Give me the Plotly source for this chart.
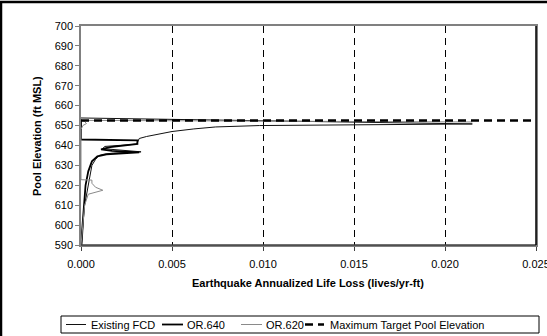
import plotly.graph_objects as go

# ---------------- data ----------------
fcd_x = [0.00005, 0.0001, 0.00015, 0.0002, 0.0003, 0.0004, 0.0005, 0.0006, 0.0008, 0.0010,
         0.0013, 0.0018, 0.0033, 0.0020, 0.0012, 0.0013, 0.0030, 0.0031, 0.0032, 0.0036,
         0.0040, 0.0050, 0.0062, 0.0074, 0.0098, 0.0150, 0.0215, 0.0]
fcd_y = [590, 600, 605, 610, 615, 620, 625, 630, 633, 635,
         635.7, 636.2, 636.8, 637.6, 638.4, 639.5, 640.6, 641.5, 643.5, 644.5,
         645.3, 647.0, 648.3, 649.3, 650.0, 650.4, 650.8, 653.8]

or640_x = [0.0, 0.00008, 0.00015, 0.00025, 0.0004, 0.0006, 0.0009, 0.0014, 0.0032, 0.0017,
           0.0011, 0.0016, 0.0031, 0.0031, 0.0031, 0.0, 0.0]
or640_y = [590, 600, 610, 620, 627, 632, 634.5, 635.5, 636.5, 637.3,
           638.0, 639.2, 640.8, 641.8, 642.6, 643.0, 653.0]

or620_x = [0.0, 0.0001, 0.0002, 0.0004, 0.0008, 0.0012, 0.0008, 0.0006, 0.0006, 0.0,
           0.0, 0.0001, 0.0003, 0.0002, 0.0, 0.0215]
or620_y = [590, 600, 610, 615.5, 616.5, 617.5, 619, 621, 622.6, 622.8,
           648, 650, 651, 652, 652.6, 651.8]

target_x = [0.0, 0.025]
target_y = [652.5, 652.5]

x_ticks = [0.0, 0.005, 0.010, 0.015, 0.020, 0.025]
x_tick_labels = ["0.000", "0.005", "0.010", "0.015", "0.020", "0.025"]
y_ticks = list(range(590, 701, 10))

series_names = ["Existing FCD", "OR.640", "OR.620", "Maximum Target Pool Elevation"]
x_title = "Earthquake Annualized Life Loss (lives/yr-ft)"
y_title = "Pool Elevation (ft MSL)"

FONT = "Liberation Sans, Arial, sans-serif"
W, H = 547, 336
L, R, T, B = 81, 11, 26, 91
PW, PH = W - L - R, H - T - B


def px(X):
    return (X - L) / PW


def py(Y):
    return (H - B - Y) / PH


styles = [dict(color="#111111", width=1),
          dict(color="#000000", width=1.8),
          dict(color="#8a8a8a", width=1),
          dict(color="#000000", width=2.5, dash="8px,5px")]

fig = go.Figure()
for name, xs, ys, st in zip(series_names,
                            [fcd_x, or640_x, or620_x, target_x],
                            [fcd_y, or640_y, or620_y, target_y], styles):
    fig.add_trace(go.Scatter(x=xs, y=ys, mode="lines", name=name, line=st,
                             showlegend=False, hoverinfo="skip"))

fig.update_xaxes(range=[0, 0.0250001], tickvals=x_ticks, ticktext=x_tick_labels,
                 showgrid=True, gridcolor="#000000", gridwidth=1, griddash="7px,5px",
                 zeroline=False, showline=True, linecolor="#808080", linewidth=1.5,
                 mirror=True, ticks="outside", ticklen=4, tickcolor="#404040",
                 ticklabelstandoff=4, automargin=False, ticklabeloverflow="allow",
                 tickfont=dict(family=FONT, size=11, color="#000"))
fig.update_yaxes(range=[590, 700], tickvals=y_ticks, showgrid=False, zeroline=False,
                 showline=True, linecolor="#808080", linewidth=1.5, mirror=True,
                 ticks="outside", ticklen=4, tickcolor="#808080", automargin=False,
                 tickfont=dict(family=FONT, size=11, color="#000"))

shapes = []
# bottom axis darker, right border black
shapes.append(dict(type="line", xref="paper", yref="paper", x0=0, x1=1, y0=0, y1=0,
                   line=dict(color="#404040", width=1.5)))
shapes.append(dict(type="line", xref="paper", yref="paper", x0=1, x1=1, y0=0, y1=1,
                   line=dict(color="#000", width=1.5)))
# outer chart frame
shapes.append(dict(type="rect", xref="paper", yref="paper", x0=px(1), x1=px(560),
                   y0=py(350), y1=py(2), line=dict(color="#000", width=2.5)))
# legend box
shapes.append(dict(type="rect", xref="paper", yref="paper", x0=px(61), x1=px(539),
                   y0=py(333), y1=py(316), line=dict(color="#000", width=1),
                   fillcolor="white"))
ly = 324.5
samples = [(66, 86, 89), (162, 183, 185), (241, 262, 264), (305, 324, 328)]
annotations = []
for (xa, xb, xt), name, st in zip(samples, series_names, styles):
    shapes.append(dict(type="line", xref="paper", yref="paper", x0=px(xa), x1=px(xb),
                       y0=py(ly), y1=py(ly), line=st))
    annotations.append(dict(text=name, xref="paper", yref="paper", x=px(xt), y=py(ly),
                            xanchor="left", yanchor="middle", showarrow=False,
                            font=dict(family=FONT, size=11, color="#000")))

annotations.append(dict(text="<b>" + x_title + "</b>", xref="paper", yref="paper",
                        x=px(308), y=py(283), xanchor="center", yanchor="middle",
                        showarrow=False, font=dict(family=FONT, size=11, color="#000")))
annotations.append(dict(text="<b>" + y_title + "</b>", xref="paper", yref="paper",
                        x=px(37), y=py(136), xanchor="center", yanchor="middle",
                        textangle=-90, showarrow=False,
                        font=dict(family=FONT, size=11, color="#000")))

fig.update_layout(
    width=W, height=H, margin=dict(l=L, r=R, t=T, b=B),
    paper_bgcolor="white", plot_bgcolor="white",
    font=dict(family=FONT, size=11, color="#000"),
    showlegend=False, shapes=shapes, annotations=annotations, hovermode=False,
)
fig.write_html("out.html", config={"displayModeBar": False},
               post_script="document.body.style.margin='0';document.body.style.overflow='hidden';")
